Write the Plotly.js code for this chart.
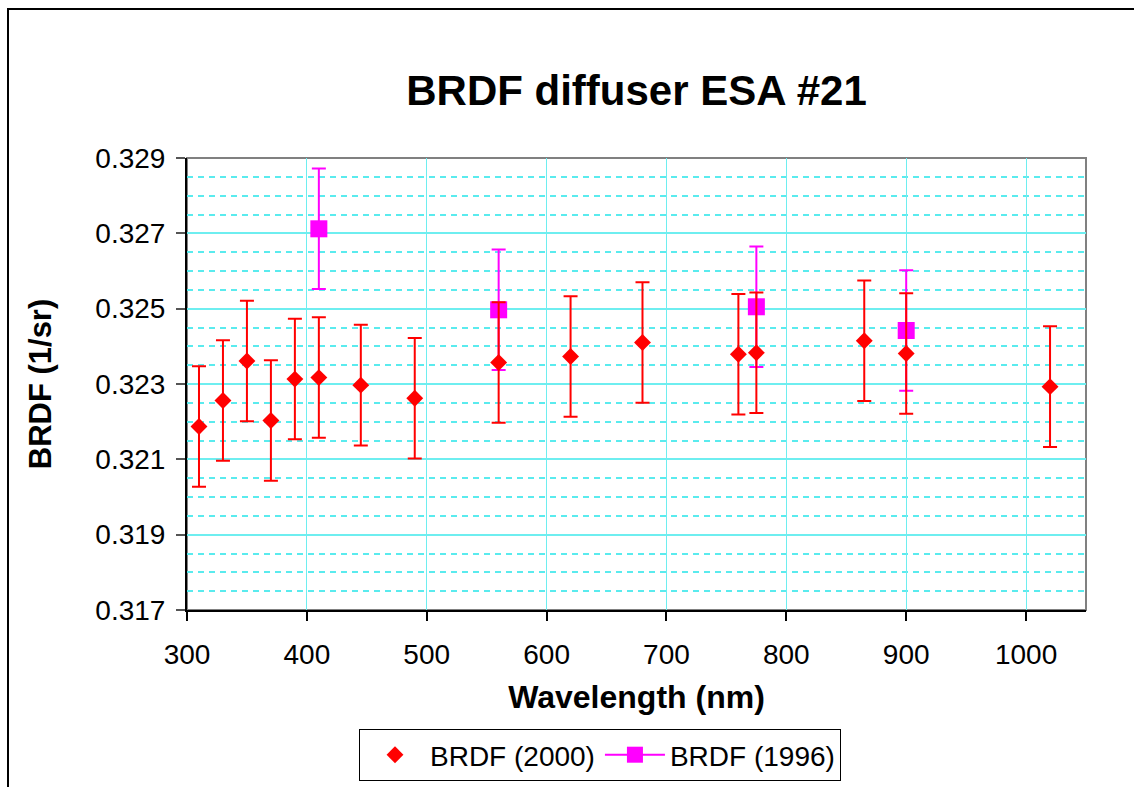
<!DOCTYPE html>
<html>
<head>
<meta charset="utf-8">
<script src="https://cdn.plot.ly/plotly-3.0.1.min.js"></script>
<style>
  html, body { margin: 0; padding: 0; background: #fff; }
  #chart { width: 1134px; height: 787px; }
  #frame { position: absolute; left: 7px; top: 8px; width: 1200px; height: 900px;
           border-left: 2px solid #000; border-top: 2px solid #000; pointer-events: none; }
</style>
</head>
<body>
<div id="chart"></div>
<div id="frame"></div>
<script>
// Wavelengths (nm) and BRDF values (1/sr)
const wl2000 = [310, 330, 350, 370, 390, 410, 445, 490, 560, 620, 680, 760, 775, 865, 900, 1020];
const brdf2000 = [0.32187, 0.32256, 0.32361, 0.32203, 0.32313, 0.32317, 0.32297, 0.32262,
                  0.32357, 0.32373, 0.32410, 0.32379, 0.32383, 0.32415, 0.32381, 0.32293];
const err2000 = [0.0016, 0.0016, 0.0016, 0.0016, 0.0016, 0.0016, 0.0016, 0.0016,
                 0.0016, 0.0016, 0.0016, 0.0016, 0.0016, 0.0016, 0.0016, 0.0016];

const wl1996 = [410, 560, 775, 900];
const brdf1996 = [0.32712, 0.32497, 0.32505, 0.32442];
const err1996 = [0.0016, 0.0016, 0.0016, 0.0016];

const name2000 = 'BRDF (2000)';
const name1996 = 'BRDF (1996)';
const chartTitle = 'BRDF diffuser ESA #21';
const xTitle = 'Wavelength (nm)';
const yTitle = 'BRDF (1/sr)';

const FONT = 'Arial, "Liberation Sans", sans-serif';
const GRID = 'rgb(110,238,240)';

const traces = [
  {
    x: wl1996, y: brdf1996, type: 'scatter', mode: 'markers', name: name1996,
    showlegend: false,
    marker: { symbol: 'square', size: 17, color: '#FF00FF' },
    error_y: { type: 'data', array: err1996, visible: true, color: '#FF00FF', thickness: 2, width: 7 }
  },
  {
    x: wl2000, y: brdf2000, type: 'scatter', mode: 'markers', name: name2000,
    marker: { symbol: 'diamond', size: 13, color: '#FF0000' },
    error_y: { type: 'data', array: err2000, visible: true, color: '#FF0000', thickness: 2, width: 7 }
  },
  {
    x: [null], y: [null], type: 'scatter', mode: 'lines+markers', name: name1996,
    marker: { symbol: 'square', size: 17, color: '#FF00FF' },
    line: { color: '#FF00FF', width: 2 }
  }
];

const layout = {
  width: 1134, height: 787,
  margin: { l: 187, r: 48, t: 158, b: 177, autoexpand: false },
  paper_bgcolor: '#fff', plot_bgcolor: '#fff',
  font: { family: FONT, color: '#000' },
  title: {
    text: '<b>' + chartTitle + '</b>',
    font: { family: FONT, size: 42, color: '#000' },
    x: 0.5, xref: 'paper', xanchor: 'center',
    y: (787 - 90) / 787, yref: 'container', yanchor: 'middle'
  },
  xaxis: {
    range: [300, 1050], dtick: 100, tick0: 300,
    automargin: false,
    showgrid: true, gridcolor: GRID, gridwidth: 1,
    zeroline: false,
    showline: true, linecolor: '#000', linewidth: 2,
    ticks: 'outside', ticklen: 9, tickwidth: 2, tickcolor: '#000',
    ticklabelstandoff: 9,
    tickfont: { family: FONT, size: 28, color: '#000' },
    title: { text: '<b>' + xTitle + '</b>', font: { family: FONT, size: 32, color: '#000' }, standoff: 17 },
    fixedrange: true
  },
  yaxis: {
    range: [0.317, 0.329], dtick: 0.002, tick0: 0.317, tickformat: '.3f',
    automargin: false,
    showgrid: true, gridcolor: GRID, gridwidth: 2,
    minor: { dtick: 0.0005, showgrid: true, gridcolor: 'rgb(90,235,238)', gridwidth: 2, griddash: '6px,5px', ticks: '' },
    zeroline: false,
    showline: true, linecolor: '#000', linewidth: 2,
    ticks: 'outside', ticklen: 9, tickwidth: 2, tickcolor: '#555',
    ticklabelstandoff: 5,
    tickfont: { family: FONT, size: 28, color: '#000' },
    title: { text: '<b>' + yTitle + '</b>', font: { family: FONT, size: 31, color: '#000' }, standoff: 34 },
    fixedrange: true
  },
  shapes: [
    { type: 'rect', xref: 'paper', yref: 'paper', x0: 0, x1: 1, y0: 0, y1: 1,
      line: { color: '#808080', width: 2 }, layer: 'below' }
  ],
  showlegend: true,
  legend: {
    orientation: 'h', x: (359 - 187) / 899, xanchor: 'left', xref: 'paper',
    y: (610 - 729) / 452, yanchor: 'top', yref: 'paper',
    bordercolor: '#000', borderwidth: 1, bgcolor: '#fff',
    font: { family: FONT, size: 28, color: '#000' },
    itemwidth: 60, traceorder: 'normal'
  }
};

Plotly.newPlot('chart', traces, layout, { displayModeBar: false, staticPlot: true });
</script>
</body>
</html>
